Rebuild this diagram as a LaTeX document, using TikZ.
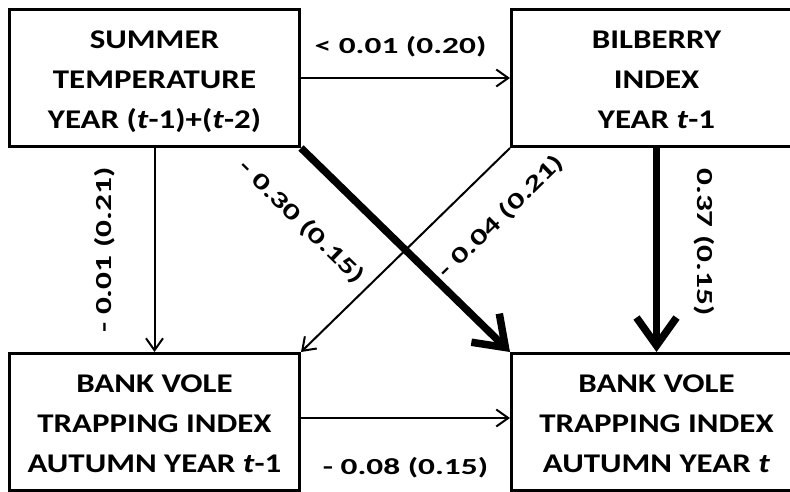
\documentclass[tikz,border=0pt]{standalone}
\usepackage{fontspec}
\setmainfont{Carlito}
\usetikzlibrary{positioning,arrows.meta}
\newcommand{\wtext}[1]{\scalebox{1.22}[1]{\bfseries #1}}
\newcommand{\wlbl}[1]{\scalebox{1.45}[1]{\bfseries #1}}

\begin{document}
\begin{tikzpicture}[x=1pt, y=-1pt,
    box/.style={draw, line width=3pt, minimum width=290pt, minimum height=137pt, align=center, text height=100pt, text depth=0pt, font=\fontsize{27}{40}\selectfont},
    lbl/.style={font=\fontsize{23}{27}\selectfont},
    thinarrow/.style={->, >={Straight Barb[length=12pt, width=17pt]}, line width=2pt},
    thickarrow/.style={->, >={Straight Barb[length=28pt, width=40pt]}, line width=7.5pt}]
    \useasboundingbox (0,0) rectangle (790,491);

    % Nodes
    \node[box] (summer) at (154.5,78) {\wtext{SUMMER}\\\wtext{TEMPERATURE}\\\wtext{YEAR (\textit{t}-1)+(\textit{t}-2)}};
    \node[box, right=209pt of summer] (bilberry) {\wtext{BILBERRY}\\\wtext{INDEX}\\\wtext{YEAR \textit{t}-1}};
    \node[box, below=204pt of summer] (vole_prev) {\wtext{BANK VOLE}\\\wtext{TRAPPING INDEX}\\\wtext{AUTUMN YEAR \textit{t}-1}};
    \node[box, right=209pt of vole_prev] (vole_now) {\wtext{BANK VOLE}\\\wtext{TRAPPING INDEX}\\\wtext{AUTUMN YEAR \textit{t}}};

    % Arrows
    \draw[thinarrow] (summer) -- node[lbl, xshift=-5pt, yshift=31pt] {\wlbl{< 0.01 (0.20)}} (bilberry);
    \draw[thinarrow] (summer.south) -- node[lbl, xshift=-50pt, rotate=90] {\wlbl{- 0.01 (0.21)}} (vole_prev.north);
    \draw[thickarrow] (summer.south east) -- node[lbl, pos=0.18, xshift=-37pt, yshift=-37pt, rotate=-44.3] {\wlbl{- 0.30 (0.15)}} (vole_now.north west);
    \draw[thinarrow] (bilberry.south west) -- node[lbl, pos=0.185, xshift=30pt, yshift=-31pt, rotate=44.3] {\wlbl{- 0.04 (0.21)}} (vole_prev.north east);
    \draw[thickarrow] (bilberry.south) -- node[lbl, xshift=48pt, yshift=8pt, rotate=-90] {\wlbl{0.37 (0.15)}} (vole_now.north);
    \draw[thinarrow] ([yshift=4pt]vole_prev.east) -- node[lbl, yshift=-50pt] {\wlbl{- 0.08 (0.15)}} ([yshift=4pt]vole_now.west);
\end{tikzpicture}
\end{document}
